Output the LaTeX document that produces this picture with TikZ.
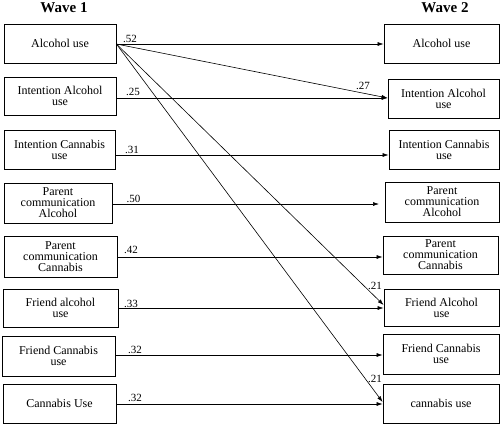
\documentclass[tikz,border=0pt]{standalone}
\usepackage{fontspec}
\setmainfont{Liberation Serif}
\usetikzlibrary{arrows.meta}
\begin{document}
\begin{tikzpicture}[x=1pt,y=-1pt,
  box/.style={draw, line width=0.8pt, align=center, inner sep=0pt, font=\fontsize{12}{11}\selectfont},
  title/.style={font=\fontsize{15}{15}\selectfont\bfseries},
  lab/.style={font=\fontsize{11}{11}\selectfont, inner sep=0pt},
  arr/.style={line width=0.6pt, -{Latex[length=6pt,width=4pt]}}]
\useasboundingbox (0,0) rectangle (500,424);
\node[title] (w1) at (64,8) {Wave 1};
\node[title] (w2) at (445,8) {Wave 2};
% left
\node[box, minimum width=112pt, minimum height=39pt] (L1) at (60,43.5) {Alcohol use};
\node[box, minimum width=112pt, minimum height=38pt] (L2) at (60,96) {Intention Alcohol\\use};
\node[box, minimum width=111pt, minimum height=39pt] (L3) at (59.5,149.5) {Intention Cannabis\\use};
\node[box, minimum width=108pt, minimum height=40pt] (L4) at (58,203) {Parent\\communication\\Alcohol};
\node[box, minimum width=113pt, minimum height=41pt] (L5) at (60.5,256.5) {Parent\\communication\\Cannabis};
\node[box, minimum width=115pt, minimum height=38pt] (L6) at (60.5,308) {Friend alcohol\\use};
\node[box, minimum width=113pt, minimum height=40pt] (L7) at (58.5,356) {Friend Cannabis\\use};
\node[box, minimum width=113pt, minimum height=39pt] (L8) at (59.5,403.5) {Cannabis Use};
% right
\node[box, minimum width=115pt, minimum height=39pt] (R1) at (441.5,43.5) {Alcohol use};
\node[box, minimum width=111pt, minimum height=39pt] (R2) at (443.5,98.5) {Intention Alcohol\\use};
\node[box, minimum width=110pt, minimum height=39pt] (R3) at (444,149.5) {Intention Cannabis\\use};
\node[box, minimum width=114pt, minimum height=40pt] (R4) at (442,202) {Parent\\communication\\Alcohol};
\node[box, minimum width=115pt, minimum height=38pt] (R5) at (440.5,255) {Parent\\communication\\Cannabis};
\node[box, minimum width=115pt, minimum height=37pt] (R6) at (441.5,307.5) {Friend Alcohol\\use};
\node[box, minimum width=116pt, minimum height=40pt] (R7) at (441,354) {Friend Cannabis\\use};
\node[box, minimum width=116pt, minimum height=39pt] (R8) at (441,403.5) {cannabis use};
% horizontal arrows
\draw[arr] (L1.east |- 0,44) -- (R1.west |- 0,44);
\draw[arr] (L2.east |- 0,98) -- (R2.west |- 0,98);
\draw[arr] (L3.east |- 0,155) -- (R3.west |- 0,155);
\draw[arr] (L4.east |- 0,204) -- (379,204) coordinate (e4);
\draw[arr] (L5.east |- 0,257) -- (R5.west |- 0,257);
\draw[arr] (L6.east |- 0,308) -- (R6.west |- 0,308);
\draw[arr] (L7.east |- 0,355) -- (R7.west |- 0,355);
\draw[arr] (L8.east |- 0,404) -- (R8.west |- 0,404);
% diagonals
\draw[arr] (L1.east |- 0,44) -- (R2.west |- 0,98);
\draw[arr] (L1.east |- 0,44) -- (R6.west |- 0,305);
\draw[arr] (L1.east |- 0,44) -- (R8.west |- 0,402);
% labels
\node[lab] (a1) at (130,39) {.52};
\node[lab] (a2) at (133,92) {.25};
\node[lab] (a3) at (132,150) {.31};
\node[lab] (a4) at (133.5,199) {.50};
\node[lab] (a5) at (131,250) {.42};
\node[lab] (a6) at (131,304) {.33};
\node[lab] (a7) at (135,350) {.32};
\node[lab] (a8) at (135,398) {.32};
\node[lab] (b1) at (363,86) {.27};
\node[lab] (b2) at (375,286) {.21};
\node[lab] (b3) at (375,379) {.21};
\end{tikzpicture}
\end{document}
